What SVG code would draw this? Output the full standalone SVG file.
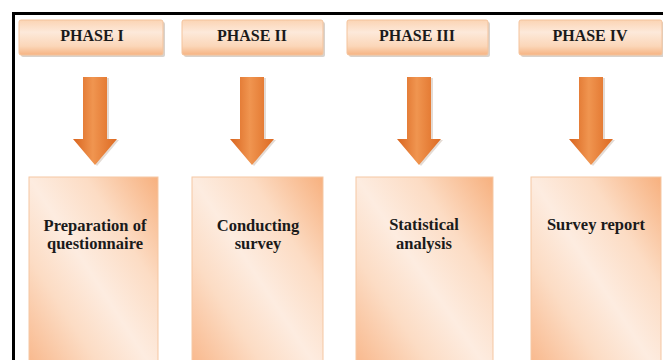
<svg xmlns="http://www.w3.org/2000/svg" width="663" height="360" viewBox="0 0 663 360">
  <defs>
    <linearGradient id="phaseGrad" x1="0" y1="0" x2="0" y2="1">
      <stop offset="0" stop-color="#fbd4b4"/>
      <stop offset="0.35" stop-color="#fde9da"/>
      <stop offset="0.75" stop-color="#fbd6b8"/>
      <stop offset="1" stop-color="#f6b382"/>
    </linearGradient>
    <linearGradient id="boxGrad" x1="0" y1="1" x2="1" y2="0">
      <stop offset="0" stop-color="#f8b486"/>
      <stop offset="0.3" stop-color="#fcdcc4"/>
      <stop offset="0.5" stop-color="#fdece0"/>
      <stop offset="0.72" stop-color="#fcdcc4"/>
      <stop offset="1" stop-color="#f7b07e"/>
    </linearGradient>
    <linearGradient id="arrowGrad" x1="0" y1="0" x2="1" y2="0">
      <stop offset="0" stop-color="#d9651f"/>
      <stop offset="0.45" stop-color="#f09550"/>
      <stop offset="1" stop-color="#dd6a22"/>
    </linearGradient>
    <path id="arrow" d="M-12,0 H12 V62 H22 L0,88 L-22,62 H-12 Z"/>
  </defs>
  <style>
    .phase { fill: url(#phaseGrad); stroke: #f4c39c; stroke-width: 1; }
    .box { fill: url(#boxGrad); stroke: #f5c7a3; stroke-width: 1; }
    .shadow { fill: #d9d2cc; }
    .arr { fill: url(#arrowGrad); }
    .arrsh { fill: #c9b8aa; opacity: 0.5; }
    text { font-family: "Liberation Serif", "Times New Roman", serif; font-weight: bold; font-size: 16.5px; fill: #1a1a1a; text-anchor: middle; }
    .pt { font-size: 16px; }
  </style>
  <rect width="663" height="360" fill="#ffffff"/>
  <rect x="13.5" y="13.5" width="680" height="380" fill="none" stroke="#000000" stroke-width="3"/>

  <g id="phase1">
    <rect class="shadow" x="21" y="22" width="144" height="35" rx="2"/>
    <rect class="phase" x="19" y="20" width="144" height="35" rx="2"/>
    <text class="pt" x="92" y="41">PHASE I</text>
  </g>
  <g id="phase2">
    <rect class="shadow" x="184" y="22" width="141" height="35" rx="2"/>
    <rect class="phase" x="182" y="20" width="141" height="35" rx="2"/>
    <text class="pt" x="252" y="41">PHASE II</text>
  </g>
  <g id="phase3">
    <rect class="shadow" x="349" y="22" width="141" height="35" rx="2"/>
    <rect class="phase" x="347" y="20" width="141" height="35" rx="2"/>
    <text class="pt" x="417" y="41">PHASE III</text>
  </g>
  <g id="phase4">
    <rect class="shadow" x="521" y="22" width="143" height="35" rx="2"/>
    <rect class="phase" x="519" y="20" width="143" height="35" rx="2"/>
    <text class="pt" x="590" y="41">PHASE IV</text>
  </g>

  <g id="connectors">
    <use href="#arrow" class="arrsh" transform="translate(97,78)"/>
    <use href="#arrow" class="arr" transform="translate(95,77)"/>
    <use href="#arrow" class="arrsh" transform="translate(254,78)"/>
    <use href="#arrow" class="arr" transform="translate(252,77)"/>
    <use href="#arrow" class="arrsh" transform="translate(421,78)"/>
    <use href="#arrow" class="arr" transform="translate(419,77)"/>
    <use href="#arrow" class="arrsh" transform="translate(593,78)"/>
    <use href="#arrow" class="arr" transform="translate(591,77)"/>
  </g>

  <g id="box1">
    <rect class="box" x="29" y="177" width="129" height="200"/>
    <text x="95" y="231">Preparation of</text>
    <text x="95" y="249">questionnaire</text>
  </g>
  <g id="box2">
    <rect class="box" x="192" y="177" width="131" height="200"/>
    <text x="258" y="231">Conducting</text>
    <text x="258" y="249">survey</text>
  </g>
  <g id="box3">
    <rect class="box" x="356" y="177" width="137" height="200"/>
    <text x="424" y="230">Statistical</text>
    <text x="424" y="249">analysis</text>
  </g>
  <g id="box4">
    <rect class="box" x="531" y="177" width="130" height="200"/>
    <text x="596" y="230">Survey report</text>
  </g>
</svg>
